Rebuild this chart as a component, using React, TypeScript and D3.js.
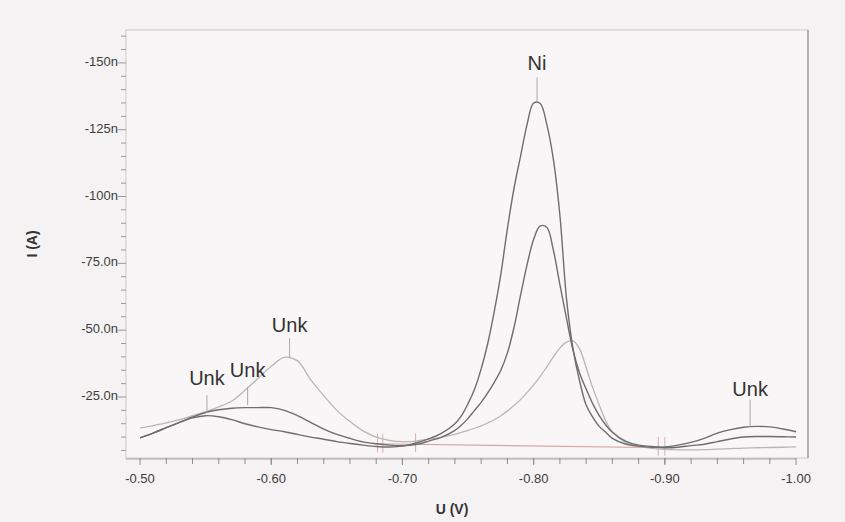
import { useEffect } from 'react';
import * as d3 from 'd3';

// Potentials (V) shared by every voltammogram trace
const potentials = [
  -0.5, -0.51, -0.52, -0.53, -0.54, -0.55, -0.56, -0.57, -0.58, -0.59,
  -0.6, -0.61, -0.62, -0.63, -0.64, -0.65, -0.66, -0.67, -0.68, -0.69,
  -0.7, -0.71, -0.72, -0.73, -0.74, -0.745, -0.75, -0.755, -0.76, -0.765,
  -0.77, -0.775, -0.78, -0.785, -0.79, -0.795, -0.8, -0.805, -0.81, -0.815,
  -0.82, -0.825, -0.83, -0.835, -0.84, -0.845, -0.85, -0.855, -0.86, -0.87,
  -0.88, -0.89, -0.9, -0.91, -0.92, -0.93, -0.94, -0.95, -0.96, -0.97,
  -0.98, -0.99, -1.0,
];

// Current magnitudes (nA, plotted as negative values)
const traceHigh = [
  9.7, 11.5, 13.5, 15.5, 17.2, 18.0, 17.6, 16.5, 15.0, 13.8,
  12.8, 12.0, 11.0, 10.0, 9.2, 8.3, 7.6, 7.0, 6.5, 6.3,
  6.6, 7.8, 9.3, 11.5, 15.0, 18.0, 22.5, 28.0, 35.5, 45.0,
  57.0, 71.0, 88.0, 103.0, 115.0, 127.0, 135.0, 134.8, 127.0, 114.0,
  93.0, 62.0, 43.0, 31.0, 22.0, 17.5, 14.0, 11.8, 9.5, 7.4,
  6.6, 6.2, 6.3, 7.0, 8.0, 9.5, 11.5, 12.8, 13.7, 14.0,
  13.8, 13.0, 12.0,
];

const traceMid = [
  9.7, 11.5, 13.5, 15.5, 17.5, 19.2, 20.2, 20.8, 21.0, 21.0,
  21.0, 20.0, 18.0, 15.5, 13.0, 11.0, 9.5, 8.2, 7.5, 7.0,
  6.8, 7.2, 8.5, 10.0, 12.5, 14.5, 17.0, 20.0, 23.0, 26.5,
  30.5, 35.0, 41.5, 51.0, 63.0, 74.5, 84.0, 89.0, 88.5, 80.0,
  67.0, 54.5, 42.5, 34.0, 28.0, 22.5, 18.0, 14.5, 11.8, 8.5,
  7.0, 6.5, 6.0, 6.2, 6.8, 7.3, 8.3, 9.3, 10.0, 10.2,
  10.2, 10.1, 10.0,
];

const traceLight = [
  13.4, 14.3, 15.3, 16.5, 18.0, 19.5, 21.3, 23.5, 27.5, 32.0,
  36.5, 39.8, 38.5, 31.5, 25.5, 20.0, 15.8, 12.3, 10.0, 8.8,
  8.3, 8.5, 9.2, 10.0, 11.0, 11.8, 12.5, 13.3, 14.2, 15.3,
  16.5, 18.0, 19.8, 21.8, 24.0, 26.7, 29.5, 32.7, 36.3, 40.0,
  43.3, 45.5, 46.0, 43.0, 36.0, 28.5, 22.0, 16.0, 12.0, 8.0,
  6.5, 5.8, 5.4, 5.2, 5.2, 5.3, 5.5, 5.7, 5.9, 6.0,
  6.1, 6.2, 6.3,
];

// Peak baseline drawn under the Ni peak
const baselinePotentials = [-0.68, -0.9];
const baselineValues = [7.5, 6.0];

// Integration bound markers
const markerPotentials = [-0.681, -0.685, -0.71, -0.895, -0.9];
const markerValues = [7.3, 7.2, 7.4, 6.1, 6.0];

// Peak labels: text, potential, current at tick top and at curve
const peakNames = ['Ni', 'Unk', 'Unk', 'Unk', 'Unk'];
const peakPotentials = [-0.8026, -0.551, -0.582, -0.614, -0.965];
const peakTickTop = [144.5, 25.7, 28.7, 47.0, 24.0];
const peakTickBottom = [135.5, 19.0, 22.0, 39.8, 13.8];
const peakLabelLevel = [147.5, 29.6, 32.3, 49.3, 25.2];

const yMajorTicks = [25, 50, 75, 100, 125, 150];
const yTickLabels = ['-25.0n', '-50.0n', '-75.0n', '-100n', '-125n', '-150n'];
const xMajorTicks = [-0.5, -0.6, -0.7, -0.8, -0.9, -1.0];
const xTickLabels = ['-0.50', '-0.60', '-0.70', '-0.80', '-0.90', '-1.00'];

const W = 845;
const H = 522;
const FONT = "'Liberation Sans', Arial, sans-serif";

const App = () => {
  useEffect(() => {
    document.body.style.margin = '0';
  }, []);

  // Scales: potential runs left to right, current magnitude upward
  const xScale = d3.scaleLinear().domain([-0.4893, -1.0091]).range([126, 808]);
  const yScale = d3.scaleLinear().domain([2.17, 162.3]).range([458, 30]);

  const [x0, x1] = xScale.range();
  const [yBottom, yTop] = yScale.range();

  const line = d3
    .line<number>()
    .x((_, i) => xScale(potentials[i]))
    .y((d) => yScale(d))
    .curve(d3.curveCatmullRom.alpha(0.5));

  const baseLine = d3
    .line<number>()
    .x((_, i) => xScale(baselinePotentials[i]))
    .y((d) => yScale(d));

  const yMinorTicks = d3.range(5, 161, 5).filter((v) => !yMajorTicks.includes(v));
  const xMinorTicks = d3.range(-0.52, -1.0, -0.02);

  return (
    <svg width={W} height={H} style={{ display: 'block', background: '#f4f2f2' }}>
      <rect x={x0} y={yTop} width={x1 - x0} height={yBottom - yTop} fill="#f8f6f6" stroke="#c9c7c7" strokeWidth={1} />
      <line x1={x1} x2={x1} y1={yTop} y2={yBottom} stroke="#a3a1a1" strokeWidth={1.5} />

      {/* y axis ticks */}
      {yMinorTicks.map((v) => (
        <line key={`ym${v}`} x1={x0 - 5} x2={x0} y1={yScale(v)} y2={yScale(v)} stroke="#9a9898" strokeWidth={1} />
      ))}
      {yMajorTicks.map((v, i) => (
        <g key={`y${v}`}>
          <line x1={x0 - 8} x2={x0} y1={yScale(v)} y2={yScale(v)} stroke="#9a9898" strokeWidth={1} />
          <text x={x0 - 8} y={yScale(v) + 3} textAnchor="end" fontFamily={FONT} fontSize={13} fill="#3d3d3d">
            {yTickLabels[i]}
          </text>
        </g>
      ))}

      {/* x axis ticks */}
      <line x1={x0} x2={xScale(-1.0)} y1={yBottom + 1} y2={yBottom + 1} stroke="#a3a1a1" strokeWidth={1} />
      {xMinorTicks.map((v) => (
        <line key={`xm${v}`} x1={xScale(v)} x2={xScale(v)} y1={yBottom} y2={yBottom + 6} stroke="#8f8d8d" strokeWidth={1} />
      ))}
      {xMajorTicks.map((v, i) => (
        <g key={`x${v}`}>
          <line x1={xScale(v)} x2={xScale(v)} y1={yBottom} y2={yBottom + 7} stroke="#8f8d8d" strokeWidth={1} />
          <text x={xScale(v)} y={yBottom + 25} textAnchor="middle" fontFamily={FONT} fontSize={13} fill="#3d3d3d">
            {xTickLabels[i]}
          </text>
        </g>
      ))}

      {/* axis titles */}
      <text transform="translate(37,244) rotate(-90)" textAnchor="middle" fontFamily={FONT} fontSize={14} fontWeight="bold" fill="#333">
        I (A)
      </text>
      <text x={452} y={514} textAnchor="middle" fontFamily={FONT} fontSize={14} fontWeight="bold" fill="#333">
        U (V)
      </text>

      {/* baseline and markers */}
      <path d={baseLine(baselineValues) ?? ''} fill="none" stroke="#d9a3a3" strokeWidth={1.2} />
      {markerPotentials.map((v, i) => (
        <line key={`mk${i}`} x1={xScale(v)} x2={xScale(v)} y1={yScale(markerValues[i] - 3)} y2={yScale(markerValues[i] + 4)} stroke="#d6b0b0" strokeWidth={1} />
      ))}

      {/* traces */}
      <path d={line(traceLight) ?? ''} fill="none" stroke="#b8b6b6" strokeWidth={1.3} />
      <path d={line(traceMid) ?? ''} fill="none" stroke="#6f6d6d" strokeWidth={1.4} />
      <path d={line(traceHigh) ?? ''} fill="none" stroke="#6f6d6d" strokeWidth={1.4} />

      {/* peak labels */}
      {peakNames.map((name, i) => (
        <g key={`pk${i}`}>
          <line
            x1={xScale(peakPotentials[i])}
            x2={xScale(peakPotentials[i])}
            y1={yScale(peakTickTop[i])}
            y2={yScale(peakTickBottom[i])}
            stroke="#a9a7a7"
            strokeWidth={1}
          />
          <text x={xScale(peakPotentials[i])} y={yScale(peakLabelLevel[i])} textAnchor="middle" fontFamily={FONT} fontSize={20} fill="#333">
            {name}
          </text>
        </g>
      ))}
    </svg>
  );
};

export default App;
